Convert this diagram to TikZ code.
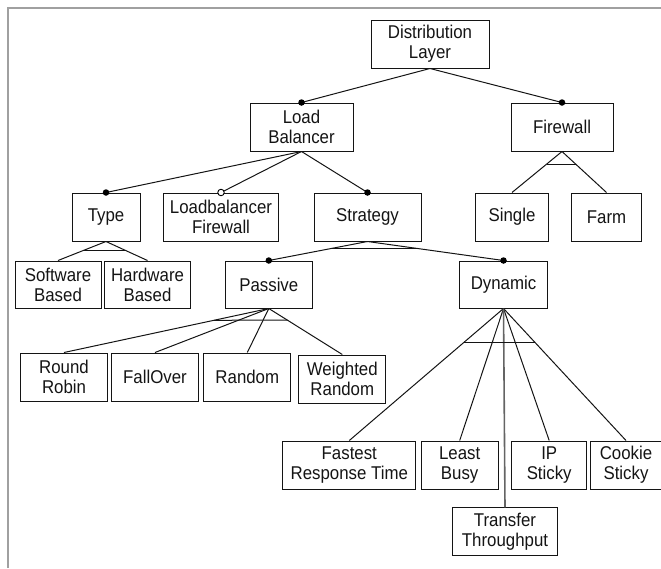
\documentclass[tikz,border=0pt]{standalone}
\usepackage{fontspec}
\setmainfont{Liberation Sans}[FakeStretch=0.91]
\usetikzlibrary{calc}
\definecolor{framegray}{RGB}{160,160,160}
\definecolor{tgray}{RGB}{100,100,100}
\definecolor{ink}{RGB}{20,20,20}
\begin{document}
\begin{tikzpicture}[x=1pt,y=-1pt,
  box/.style={draw=ink, line width=1pt, inner sep=0pt, minimum height=48pt, align=center, text=ink,
    font=\fontsize{18.5}{20}\selectfont},
  edge/.style={draw=ink, line width=1pt},
  mand/.style={circle, fill=black, inner sep=0pt, minimum size=6.5pt},
  opt/.style={circle, draw=black, fill=white, line width=0.9pt, inner sep=0pt, minimum size=6.5pt}]
\useasboundingbox (0,0) rectangle (661,568);
\draw[framegray, line width=2pt] (8,568) -- (8,8) -- (661,8);

% boxes
\node[box, minimum width=118pt] (dl) at (430,44) {Distribution\\Layer};
\node[box, minimum width=103pt] (lb) at (301.5,127) {Load\\Balancer};
\node[box, minimum width=102pt] (fw) at (562,127) {Firewall};
\node[box, minimum width=68pt] (type) at (106,217) {Type};
\node[box, minimum width=115pt] (lbf) at (221,217) {Loadbalancer\\Firewall};
\node[box, minimum width=107pt] (strat) at (367.5,217) {Strategy};
\node[box, minimum width=73pt] (single) at (512,217) {Single};
\node[box, minimum width=70pt] (farm) at (606.5,217) {Farm};
\node[box, minimum width=86pt, minimum height=47pt] (sw) at (58,284.5) {Software\\Based};
\node[box, minimum width=86pt, minimum height=47pt] (hw) at (147.5,284.5) {Hardware\\Based};
\node[box, minimum width=86.5pt, minimum height=47pt] (passive) at (268.8,284.5) {Passive};
\node[box, minimum width=88pt, minimum height=47pt] (dynamic) at (503.5,284.5) {Dynamic};
\node[box, minimum width=86.6pt] (rr) at (64,377) {Round\\Robin};
\node[box, minimum width=86.6pt] (fo) at (155,377) {FallOver};
\node[box, minimum width=86.7pt] (rnd) at (247.3,377) {Random};
\node[box, minimum width=86.7pt] (wr) at (342.3,379) {Weighted\\Random};
\node[box, minimum width=133.3pt] (frt) at (349.3,465) {Fastest\\Response Time};
\node[box, minimum width=77.3pt] (lbusy) at (459.7,465) {Least\\Busy};
\node[box, minimum width=75pt] (ip) at (549.2,465) {IP\\Sticky};
\node[box, minimum width=70.7pt] (cookie) at (626,465) {Cookie\\Sticky};
\node[box, minimum width=104.6pt, minimum height=47.5pt] (tt) at (505,531.5) {Transfer\\Throughput};

% edges
\draw[edge] (dl.south) -- (lb.north);
\draw[edge] (dl.south) -- (fw.north);
\draw[edge] (lb.south) -- (type.north);
\draw[edge] (lb.south) -- (lbf.north);
\draw[edge] (lb.south) -- (strat.north);
\draw[edge] (fw.south) -- (single.north);
\draw[edge] (fw.south) -- (farm.north);
\draw[edge] (type.south) -- (sw.north);
\draw[edge] (type.south) -- (hw.north);
\draw[edge] (strat.south) -- (passive.north);
\draw[edge] (strat.south) -- (dynamic.north);
\draw[edge] (passive.south) -- (rr.north);
\draw[edge] (passive.south) -- (fo.north);
\draw[edge] (passive.south) -- (rnd.north);
\draw[edge] (passive.south) -- (wr.north);
\draw[edge] (dynamic.south) -- (frt.north);
\draw[edge] (dynamic.south) -- (lbusy.north);
\draw[edge] (dynamic.south) -- (ip.north);
\draw[edge] (dynamic.south) -- (cookie.north);
\draw[tgray, line width=1.6pt] (dynamic.south) -- (tt.north);

% alternative bars
\draw[edge] ($(fw.south)!0.31!(single.north)$) -- ($(fw.south)!0.31!(farm.north)$);
\draw[edge] ($(type.south)!0.485!(sw.north)$) -- ($(type.south)!0.485!(hw.north)$);
\draw[edge] ($(strat.south)!0.365!(passive.north)$) -- ($(strat.south)!0.365!(dynamic.north)$);
\draw[edge] ($(passive.south)!0.267!(rr.north)$) -- ($(passive.south)!0.255!(wr.north)$);
\draw[edge] ($(dynamic.south)!0.258!(frt.north)$) -- ($(dynamic.south)!0.258!(cookie.north)$);

% feature markers
\node[mand] (m-lb) at (lb.north) {};
\node[mand] (m-fw) at (fw.north) {};
\node[mand] (m-type) at (type.north) {};
\node[opt] (o-lbf) at (lbf.north) {};
\node[mand] (m-strat) at (strat.north) {};
\node[mand] (m-passive) at (passive.north) {};
\node[mand] (m-dynamic) at (dynamic.north) {};
\end{tikzpicture}
\end{document}
